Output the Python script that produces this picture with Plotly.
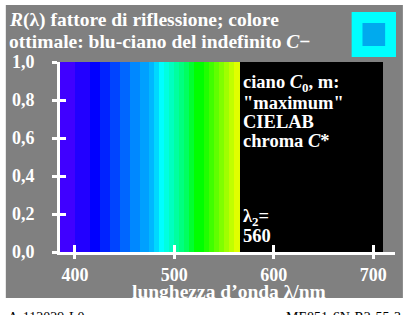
import plotly.graph_objects as go

# ---- data ----
band_lo = [385, 400, 415, 425, 435, 445, 455, 465, 475, 480, 485, 490, 495, 500, 505,
           510, 515, 520, 525, 530, 535, 540, 545, 550, 555, 560, 566]
band_hi = [400, 415, 425, 435, 445, 455, 465, 475, 480, 485, 490, 495, 500, 505, 510,
           515, 520, 525, 530, 535, 540, 545, 550, 555, 560, 566, 710]
band_colors = ["#4000ff", "#2200ff", "#0000ff", "#0022ff", "#0044ff", "#0066ff", "#0088ff",
               "#00a0ff", "#00b8ff", "#00d8ff", "#00ffff", "#00ffe0", "#00ffc0", "#00ffa0",
               "#00ff80", "#00ff60", "#00ff30", "#00ff00", "#00ff00", "#20ff00", "#40ff00",
               "#60ff00", "#80ff00", "#a0ff00", "#c0ff00", "#e0ff00", "#000000"]
band_height = [1.0] * len(band_lo)

xtick_vals = [400, 500, 600, 700]
xtick_text = ["400", "500", "600", "700"]
ytick_vals = [0.0, 0.2, 0.4, 0.6, 0.8, 1.0]
ytick_text = ["0,0", "0,2", "0,4", "0,6", "0,8", "1,0"]

x_range = [385, 722]
y_range = [0, 1.0]

title_lines = ["<i>R</i>(λ) fattore di riflessione; colore",
               "ottimale: blu-ciano del indefinito <i>C</i>−"]
info_lines = [("ciano <i>C</i><sub>0</sub>, m:", 83),
              ("\"maximum\"", 103),
              ("CIELAB", 122),
              ("chroma <i>C</i>*", 141),
              ("λ<sub>2</sub>=", 217),
              ("560", 236)]
x_title = "lunghezza d’onda λ/nm"
foot_left = "A-112029-L0"
foot_right = "ME851-6N-R2-55-3"

# ---- layout geometry (pixels) ----
W, H = 413, 315
L, R, T, B = 55, 395, 62, 252
GRAY = "#808080"
FONT = "Liberation Serif"


def px(x):
    return (x - L) / (R - L)


def py(y):
    return (B - y) / (B - T)


centers = [(a + b) / 2 for a, b in zip(band_lo, band_hi)]
widths = [b - a for a, b in zip(band_lo, band_hi)]

fig = go.Figure()
fig.add_trace(go.Bar(x=centers, y=band_height, width=widths,
                     marker=dict(color=band_colors, line=dict(width=0)),
                     hoverinfo="skip", showlegend=False))
fig.add_trace(go.Scatter(x=[x_range[0]], y=[0], xaxis="x2", yaxis="y2",
                         mode="markers", marker=dict(opacity=0), showlegend=False,
                         hoverinfo="skip"))

tick_common = dict(showgrid=False, zeroline=False, tickcolor="white", tickwidth=3)

fig.update_layout(
    width=W, height=H,
    margin=dict(l=L, r=W - R, t=T, b=H - B, pad=0),
    paper_bgcolor="white", plot_bgcolor="rgba(0,0,0,0)",
    bargap=0,
    font=dict(family=FONT, color="white", size=17),
    xaxis=dict(range=x_range, tickvals=xtick_vals, ticktext=xtick_text,
               showline=True, linecolor="white", linewidth=3,
               ticks="outside", ticklen=4, ticklabelstandoff=0,
               tickfont=dict(family=FONT, size=18, color="white", weight="bold"),
               **tick_common),
    yaxis=dict(range=y_range, tickvals=ytick_vals, ticktext=ytick_text,
               showline=True, linecolor="white", linewidth=3,
               ticks="outside", ticklen=5, ticklabelstandoff=14,
               tickfont=dict(family=FONT, size=18, color="white", weight="bold"),
               **tick_common),
    xaxis2=dict(range=x_range, overlaying="x", tickvals=xtick_vals, showticklabels=False,
                ticks="inside", ticklen=7, showline=False, **tick_common),
    yaxis2=dict(range=y_range, overlaying="y", tickvals=ytick_vals, showticklabels=False,
                ticks="inside", ticklen=6, showline=False, **tick_common),
    showlegend=False,
)

shapes = [
    dict(type="rect", xref="paper", yref="paper", layer="below",
         x0=px(0), x1=px(403), y0=py(298), y1=py(5),
         fillcolor=GRAY, line=dict(width=0)),
    dict(type="rect", xref="paper", yref="paper",
         x0=px(351), x1=px(396), y0=py(57), y1=py(12),
         fillcolor="#00ffff", line=dict(width=0)),
    dict(type="rect", xref="paper", yref="paper",
         x0=px(362), x1=px(385), y0=py(46), y1=py(23),
         fillcolor="#00aaee", line=dict(width=0)),
]
fig.update_layout(shapes=shapes)

ann = []
for i, t in enumerate(title_lines):
    ann.append(dict(text="<b>" + t + "</b>", xref="paper", yref="paper",
                    x=px(1), y=py([20, 42][i]), xanchor="left", yanchor="middle",
                    showarrow=False, font=dict(family=FONT, size=19.5, color="white")))
for t, ypix in info_lines:
    ann.append(dict(text="<b>" + t + "</b>", xref="x", yref="paper", x=567, y=py(ypix),
                    xanchor="left", yanchor="middle", showarrow=False,
                    font=dict(family=FONT, size=18.5, color="white")))
ann.append(dict(text="<b>" + x_title + "</b>", xref="paper", yref="paper",
                x=px(226.5), y=py(291.5), xanchor="center", yanchor="middle",
                showarrow=False, font=dict(family=FONT, size=19.5, color="white")))
ann.append(dict(text=foot_left, xref="paper", yref="paper", x=px(0), y=py(317),
                xanchor="left", yanchor="middle", showarrow=False,
                font=dict(family=FONT, size=14, color="black")))
ann.append(dict(text=foot_right, xref="paper", yref="paper", x=px(403), y=py(317),
                xanchor="right", yanchor="middle", showarrow=False,
                font=dict(family=FONT, size=14, color="black")))
fig.update_layout(annotations=ann)

fig.write_html("out.html", config={"displayModeBar": False},
               post_script="document.body.style.margin='0';document.body.style.overflow='hidden';")
